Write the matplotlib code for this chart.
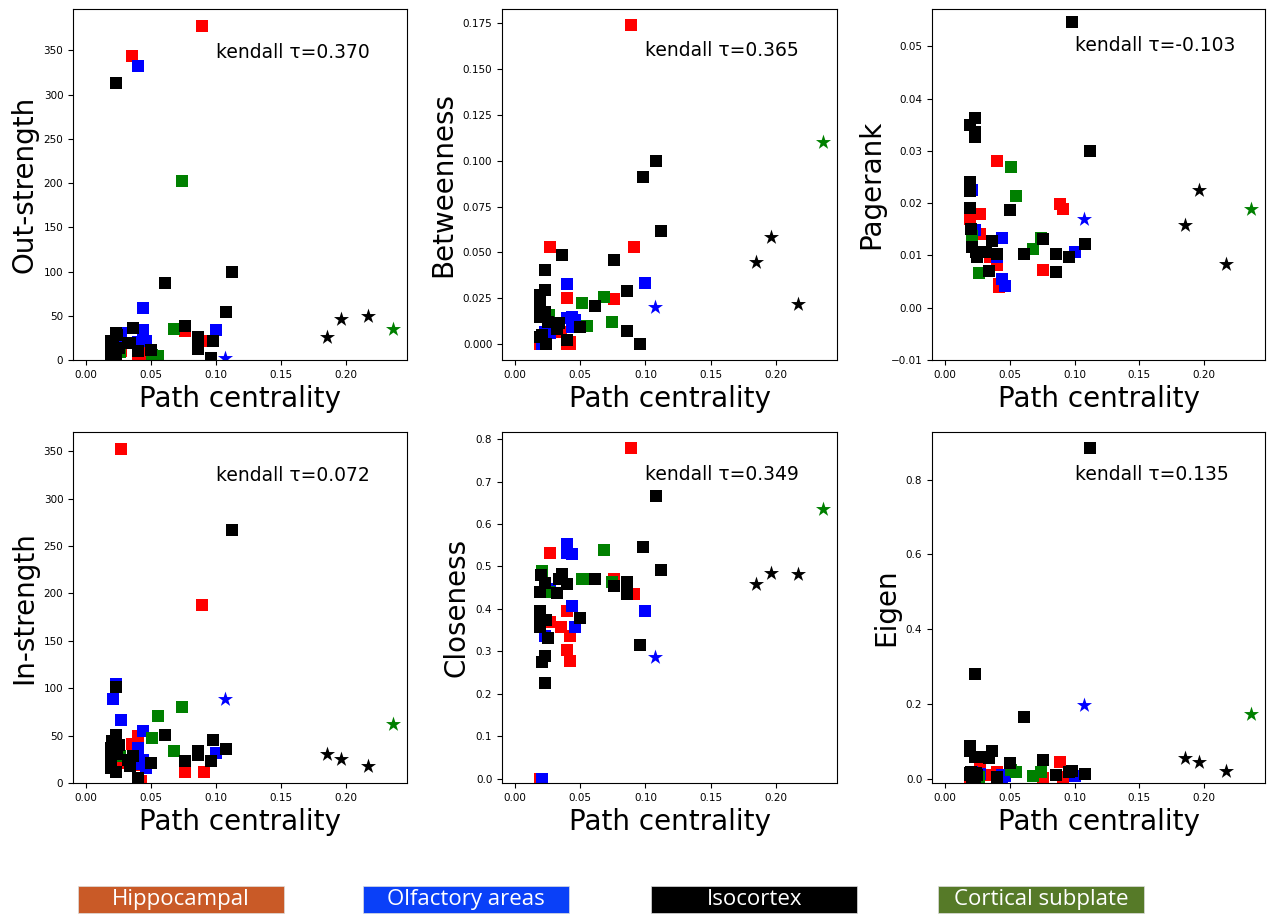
import matplotlib.pyplot as plt
from matplotlib.patches import Rectangle

# Brain regions and their drawing colours
regions = ["Hippocampal", "Olfactory areas", "Isocortex", "Cortical subplate"]
point_colors = ["r", "b", "k", "g"]
banner_colors = ["#c95a27", "#0a40f8", "#000000", "#567a28"]

# One entry per node: 11 hippocampal, 10 olfactory, 7 cortical subplate, 27 isocortex
node_region = (["Hippocampal"] * 11 + ["Olfactory areas"] * 10
               + ["Cortical subplate"] * 7 + ["Isocortex"] * 27)
# hub nodes are drawn as stars
hub = ([False] * 11 + [False] * 9 + [True] + [False] * 6 + [True]
       + [False] * 24 + [True] * 3)

path_centrality = [
    0.089, 0.091, 0.035, 0.027, 0.076, 0.019, 0.040, 0.027, 0.042, 0.040, 0.042,
    0.040, 0.100, 0.044, 0.044, 0.046, 0.027, 0.023, 0.021, 0.040, 0.107,
    0.074, 0.068, 0.051, 0.055, 0.021, 0.026, 0.236,
    0.112, 0.108, 0.098, 0.096, 0.086, 0.086, 0.076, 0.061, 0.050, 0.036, 0.034,
    0.032, 0.040, 0.023, 0.023, 0.023, 0.019, 0.019, 0.019, 0.019, 0.021, 0.024,
    0.025, 0.020, 0.185, 0.196, 0.217]

out_strength = [
    378, 22, 344, 10, 33, 0, 5, 14, 8, 18, 2,
    332, 34, 59, 34, 22, 31, 20, 5, 20, 2,
    202.6, 35, 5.7, 4.5, 12, 9, 34.7,
    100, 54, 22, 1.9, 26.4, 12.4, 39, 87.5, 11, 36.6, 19,
    19, 10, 313, 31, 4, 22, 8.7, 16, 2, 20, 28,
    14, 0, 25.6, 46, 49.8]

betweenness = [
    0.174, 0.053, 0.0068, 0.053, 0.0245, 0.0, 0.025, 0.011, 0.001, 0.0, 0.0,
    0.0327, 0.0332, 0.015, 0.0095, 0.013, 0.006, 0.0068, 0.0, 0.014, 0.0204,
    0.0119, 0.0259, 0.0223, 0.010, 0.015, 0.0159, 0.1104,
    0.0615, 0.0998, 0.091, 0.0, 0.0287, 0.0073, 0.0458, 0.021, 0.0095, 0.0484, 0.0113,
    0.008, 0.002, 0.0405, 0.0296, 0.0177, 0.0268, 0.0204, 0.015, 0.004, 0.005, 0.0,
    0.012, 0.017, 0.0445, 0.0582, 0.0217]

pagerank = [
    0.0199, 0.0189, 0.0097, 0.018, 0.0073, 0.017, 0.0281, 0.0141, 0.0039, 0.0081, 0.0045,
    0.0097, 0.0106, 0.0134, 0.0055, 0.0041, 0.0106, 0.0148, 0.0226, 0.0097, 0.0169,
    0.0134, 0.0113, 0.0269, 0.0213, 0.0138, 0.0066, 0.0189,
    0.030, 0.0122, 0.0546, 0.0097, 0.0102, 0.0068, 0.0132, 0.0102, 0.0186, 0.0127, 0.007,
    0.0106, 0.0102, 0.0363, 0.0336, 0.0326, 0.035, 0.024, 0.0224, 0.0191, 0.0116, 0.0106,
    0.0097, 0.0151, 0.0159, 0.0225, 0.0084]

in_strength = [
    188, 11.5, 41, 352.8, 11.5, 17.5, 50, 21, 19, 5, 2,
    36.7, 31.4, 55, 24.4, 15.7, 66.4, 104.8, 89, 20, 89.1,
    80, 34, 47, 71, 44, 28, 61.8,
    267, 36, 45.4, 22.7, 34, 30, 22.7, 50.6, 21, 28, 17.5,
    24, 5, 101, 50.6, 12, 36.7, 24.4, 30, 16, 33, 31,
    40, 44, 30.4, 25.1, 18.2]

closeness = [
    0.778, 0.435, 0.357, 0.532, 0.471, 0.0, 0.394, 0.368, 0.335, 0.304, 0.277,
    0.553, 0.394, 0.530, 0.407, 0.357, 0.447, 0.335, 0.0, 0.532, 0.287,
    0.464, 0.538, 0.47, 0.47, 0.489, 0.44, 0.635,
    0.492, 0.665, 0.546, 0.314, 0.464, 0.436, 0.454, 0.47, 0.378, 0.483, 0.47,
    0.437, 0.458, 0.226, 0.46, 0.289, 0.439, 0.396, 0.38, 0.357, 0.275, 0.374,
    0.332, 0.48, 0.458, 0.484, 0.482]

eigen = [
    0.047, 0.007, 0.01, 0.034, 0.003, 0.0, 0.02, 0.015, 0.012, 0.008, 0.003,
    0.0, 0.009, 0.012, 0.005, 0.008, 0.015, 0.016, 0.02, 0.0, 0.199,
    0.018, 0.009, 0.025, 0.02, 0.009, 0.005, 0.1735,
    0.883, 0.014, 0.023, 0.018, 0.0115, 0.01, 0.05, 0.165, 0.044, 0.076, 0.056,
    0.06, 0.007, 0.281, 0.058, 0.007, 0.088, 0.076, 0.016, 0.01, 0.005, 0.016,
    0.012, 0.02, 0.0558, 0.0469, 0.0221]

metric_names = ["Out-strength", "Betweenness", "Pagerank",
                "In-strength", "Closeness", "Eigen"]
metric_values = [out_strength, betweenness, pagerank,
                 in_strength, closeness, eigen]
kendall_tau = [0.370, 0.365, -0.103, 0.072, 0.349, 0.135]
y_bottom = [0, None, -0.01, 0, -0.01, -0.01]


def scatter_metric(ax, values, name, tau, bottom):
    """Scatter one centrality measure against path centrality."""
    order = ["Hippocampal", "Olfactory areas", "Cortical subplate", "Isocortex"]
    for reg in order:
        col = point_colors[regions.index(reg)]
        xs = [x for x, r, h in zip(path_centrality, node_region, hub) if r == reg and not h]
        ys = [y for y, r, h in zip(values, node_region, hub) if r == reg and not h]
        ax.scatter(xs, ys, marker="s", s=64, c=col, linewidths=0)
    for reg in order:
        col = point_colors[regions.index(reg)]
        xs = [x for x, r, h in zip(path_centrality, node_region, hub) if r == reg and h]
        ys = [y for y, r, h in zip(values, node_region, hub) if r == reg and h]
        ax.scatter(xs, ys, marker="*", s=130, c=col, linewidths=0)
    ax.set_xlim(left=-0.01)
    if bottom is not None:
        ax.set_ylim(bottom=bottom)
    ax.set_xlabel("Path centrality", fontsize=20)
    ax.set_ylabel(name, fontsize=20)
    ax.tick_params(labelsize=7.5)
    ax.text(0.1, 0.92 * max(values), "kendall τ=%.3f" % tau,
            fontsize=13.5, va="center", ha="left")


fig = plt.figure(figsize=(12.68, 9.18), dpi=100)

lefts = [0.0576, 0.3959, 0.7350]
widths = [0.2634, 0.2642, 0.2626]
bottoms = [0.6078, 0.1471]
height = 0.3824

for i in range(6):
    row, col = divmod(i, 3)
    ax = fig.add_axes([lefts[col], bottoms[row], widths[col], height])
    scatter_metric(ax, metric_values[i], metric_names[i], kendall_tau[i], y_bottom[i])

# colour key along the bottom
box_lefts = [0.0615, 0.2863, 0.5134, 0.7397]
box_w, box_h, box_y = 0.1628, 0.0294, 0.0055
for left, name, color in zip(box_lefts, regions, banner_colors):
    fig.patches.append(Rectangle((left, box_y), box_w, box_h, transform=fig.transFigure,
                                 facecolor=color, edgecolor="#dddddd", linewidth=0.5))
    fig.text(left + box_w / 2, box_y + box_h / 2, name, color="white",
             fontsize=16, family=["Open Sans", "DejaVu Sans"],
             ha="center", va="center")

fig.savefig("out.png", dpi=100)
